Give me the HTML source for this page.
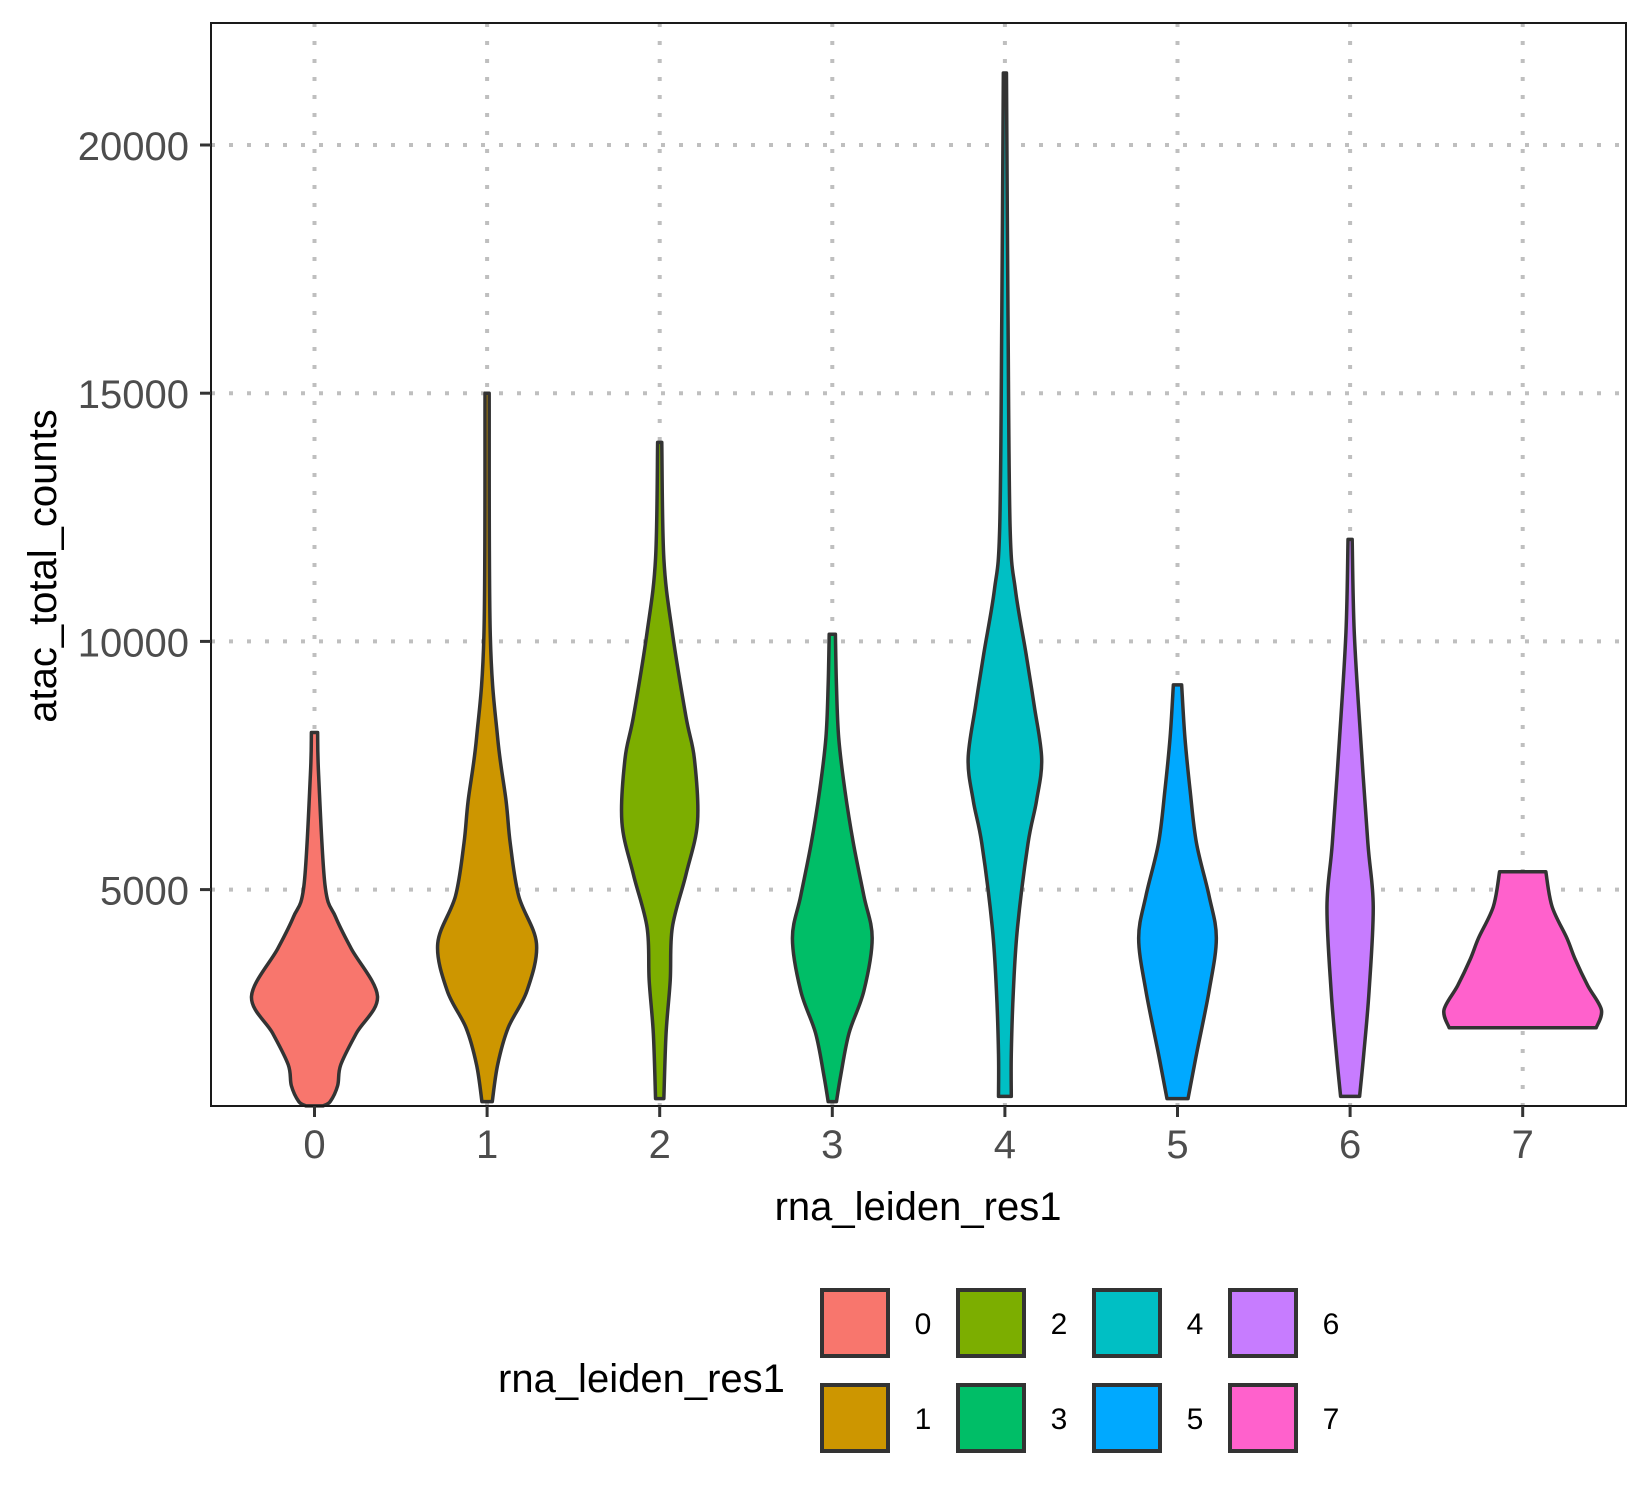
<!DOCTYPE html>
<html><head><meta charset="utf-8"><style>
html,body{margin:0;padding:0;background:#fff;}
svg{display:block;font-family:"Liberation Sans",Arial,sans-serif;}
</style></head><body>
<svg id="chart" width="1650" height="1500" viewBox="0 0 1650 1500" xmlns="http://www.w3.org/2000/svg">
<rect x="0" y="0" width="1650" height="1500" fill="#fff"/>
<g id="grid"></g>
<g id="violins"></g>
<rect x="211" y="23" width="1415" height="1083" fill="none" stroke="#1a1a1a" stroke-width="2"/>
<g id="axes"></g>
<text x="918" y="1220" font-size="40" text-anchor="middle" fill="#000">rna_leiden_res1</text>
<text transform="translate(56,566) rotate(-90)" font-size="40" text-anchor="middle" fill="#000">atac_total_counts</text>
<g id="legend">
<text x="498" y="1392" font-size="40" fill="#000">rna_leiden_res1</text>
</g>
</svg>
<script>
const categories = ["0","1","2","3","4","5","6","7"];
const colors = ["#F8766D","#CD9600","#7CAE00","#00BE67","#00BFC4","#00A9FF","#C77CFF","#FF61CC"];
const yTicks = [5000,10000,15000,20000];
// each violin: values (top to bottom) and half-widths (fraction of category spacing)
const v0vals = [8166,7300,5085,4450,3810,2850,2110,1470,1050,730,644];
const v0w = [0.018,0.024,0.061,0.122,0.213,0.365,0.243,0.152,0.134,0.091,0.05];
const v1vals = [15000,10186,8060,6785,5935,4872,3916,2960,2216,1470,730];
const v1w = [0.012,0.018,0.061,0.11,0.134,0.183,0.286,0.231,0.122,0.061,0.03];
const v2vals = [14010,11670,10186,8485,7635,6360,5300,4235,3170,2110,790];
const v2w = [0.012,0.024,0.073,0.152,0.201,0.219,0.152,0.073,0.061,0.037,0.024];
const v3vals = [10143,9123,8060,7000,5935,4872,4023,2960,2110,1260,730];
const v3w = [0.018,0.024,0.037,0.073,0.122,0.183,0.231,0.183,0.097,0.049,0.024];
const v4vals = [21450,16560,12310,11035,9760,8700,7635,6785,5935,4235,2960,1685,835];
const v4w = [0.009,0.018,0.03,0.061,0.122,0.17,0.213,0.183,0.134,0.073,0.049,0.037,0.037];
const v5vals = [9123,8060,7000,5935,4872,4023,2960,1685,790];
const v5w = [0.024,0.043,0.073,0.11,0.183,0.225,0.183,0.11,0.061];
const v6vals = [12055,10186,8060,5935,4660,2960,1685,835];
const v6w = [0.012,0.024,0.061,0.103,0.134,0.11,0.079,0.055];
const v7vals = [5360,4660,4023,3597,3065,2577,2216];
const v7w = [0.134,0.17,0.256,0.304,0.377,0.456,0.426];
const violinVals = [v0vals,v1vals,v2vals,v3vals,v4vals,v5vals,v6vals,v7vals];
const violinW = [v0w,v1w,v2w,v3w,v4w,v5w,v6w,v7w];

const NS="http://www.w3.org/2000/svg";
const PX0=211,PX1=1626,PY0=23,PY1=1106;
const step=172.6;
function xScale(i){return 314.5+i*step;}
function yScale(v){return 889.6-(v-5000)*248.2/5000;}
function mk(tag,attrs,parent){const e=document.createElementNS(NS,tag);for(const k in attrs)e.setAttribute(k,attrs[k]);parent.appendChild(e);return e;}
const grid=document.getElementById('grid'),axes=document.getElementById('axes'),vg=document.getElementById('violins'),lg=document.getElementById('legend');
yTicks.forEach(t=>{const y=yScale(t);
 const l=mk('line',{x1:PX0,x2:PX1,y1:y,y2:y,stroke:'#bfbfbf','stroke-width':4,'stroke-dasharray':'4 14'},grid);
 
 
 const tk=mk('line',{x1:PX0-11,x2:PX0,y1:y,y2:y,stroke:'#333','stroke-width':3},axes);
 
 
 const tx=mk('text',{x:PX0-22,y:y+15,'font-size':40,'text-anchor':'end',fill:'#4d4d4d'},axes);
 tx.textContent=t;
 
 
});
categories.forEach((c,i)=>{const x=xScale(i);
 const l=mk('line',{x1:x,x2:x,y1:PY0,y2:PY1,stroke:'#bfbfbf','stroke-width':4,'stroke-dasharray':'4 14'},grid);
 
 
 const tk=mk('line',{x1:x,x2:x,y1:PY1,y2:PY1+11,stroke:'#333','stroke-width':3},axes);
 
 
 const tx=mk('text',{x:x,y:1158,'font-size':40,'text-anchor':'middle',fill:'#4d4d4d'},axes);
 tx.textContent=c;
 
 
});
function catmull(pts){let d='';for(let i=0;i<pts.length-1;i++){const p0=pts[Math.max(0,i-1)],p1=pts[i],p2=pts[i+1],p3=pts[Math.min(pts.length-1,i+2)];
 const c1=[p1[0]+(p2[0]-p0[0])/6,p1[1]+(p2[1]-p0[1])/6],c2=[p2[0]-(p3[0]-p1[0])/6,p2[1]-(p3[1]-p1[1])/6];
 d+=` C${c1[0]},${c1[1]} ${c2[0]},${c2[1]} ${p2[0]},${p2[1]}`;}return d;}
categories.forEach((c,i)=>{const cx=xScale(i),vals=violinVals[i],w=violinW[i];
 const left=vals.map((v,k)=>[cx-w[k]*step,yScale(v)]);
 const right=vals.map((v,k)=>[cx+w[k]*step,yScale(v)]).reverse();
 let d=`M${left[0][0]},${left[0][1]}`+catmull(left)+` L${right[0][0]},${right[0][1]}`+catmull(right)+' Z';
 const p=mk('path',{d:d,fill:colors[i],stroke:'#333','stroke-width':3.5,'stroke-linejoin':'round'},vg);
 
 
});
categories.forEach((c,i)=>{const col=Math.floor(i/2),row=i%2;const x=822+col*136,y=1290+row*95;
 const r=mk('rect',{x:x,y:y,width:66,height:66,fill:colors[i],stroke:'#333','stroke-width':4},lg);
 
 
 const t=mk('text',{x:x+101,y:y+44,'font-size':30,'text-anchor':'middle',fill:'#000'},lg);
 t.textContent=c;
 
 
});
</script>
</body></html>
